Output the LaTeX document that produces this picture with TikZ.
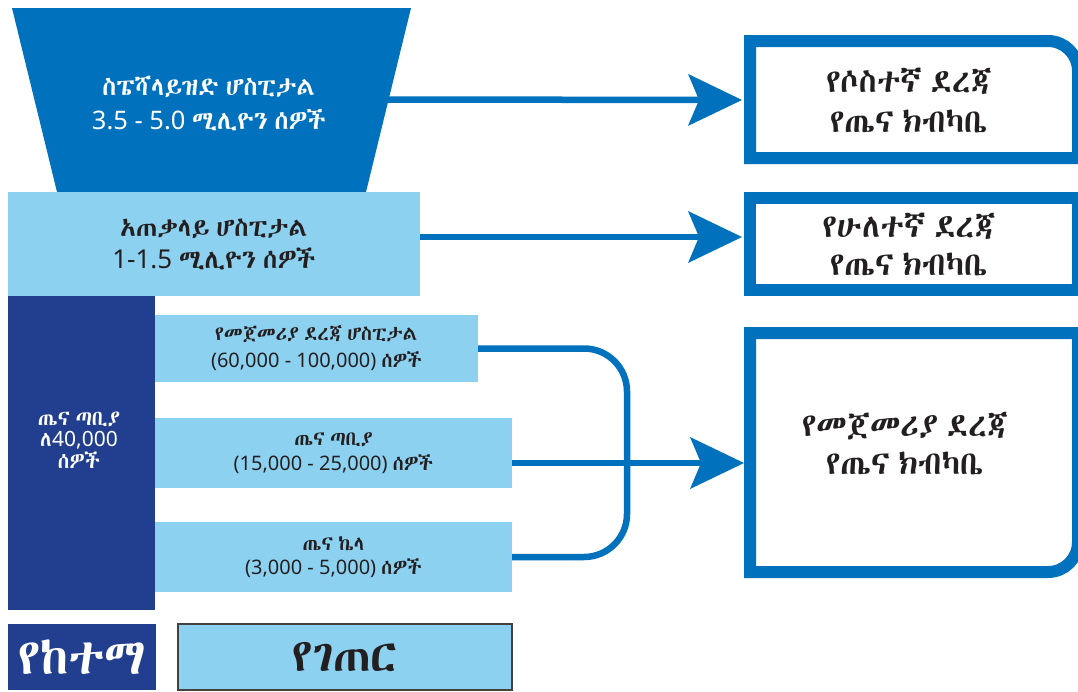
\documentclass[tikz,border=0pt]{standalone}
\usepackage{fontspec}
\setmainfont{Noto Sans}
\newfontfamily\eth[WordSpace=0.6]{Abyssinica SIL}
\newcommand{\E}[1]{{\eth #1}}
\usetikzlibrary{arrows.meta,calc}
\definecolor{mblue}{HTML}{0071BC}
\definecolor{lblue}{HTML}{8DD1F0}
\definecolor{navy}{HTML}{213F8E}
\definecolor{ink}{HTML}{231F20}
\tikzset{
  panel/.style={draw=none, inner sep=0pt, outer sep=0pt, align=center},
  lpanel/.style={panel, fill=lblue, text=ink},
  npanel/.style={panel, fill=navy, text=white},
  frame/.style={draw=mblue, line width=12pt, line join=miter},
  arr/.style={draw=mblue, line width=6.5pt, -{Stealth[length=54pt,width=52pt,inset=11pt,line width=0pt]}},
  conn/.style={draw=mblue, line width=6.5pt, rounded corners=43pt},
  tlabel/.style={inner sep=0pt, outer sep=0pt, align=center, text=ink},
}
\begin{document}
\begin{tikzpicture}[x=1pt,y=-1pt]
\clip (0,0) rectangle (1078,691);
\fill[white] (0,0) rectangle (1078,691);
% specialized hospital trapezoid
\fill[mblue] (12,8) -- (411,8) -- (366,192) -- (57,192) -- cycle;
\node[tlabel, text=white, font=\fontsize{25.5}{34}\selectfont] (spec) at (209,104)
  {\E{ስፔሻላይዝድ ሆስፒታል}\\3.5 - 5.0 \E{ሚሊዮን ሰዎች}};
\coordinate (specR) at (388,99.5);
% general hospital
\node[lpanel, minimum width=412, minimum height=104, font=\fontsize{26}{32}\selectfont] (gen) at (214,244)
  {\E{አጠቃላይ ሆስፒታል}\\1-1.5 \E{ሚሊዮን ሰዎች}};
% health centre column
\node[npanel, minimum width=147, minimum height=314] (hc) at (81.5,453) {};
\node[tlabel, text=white, font=\fontsize{21}{21.5}\selectfont] (hcT) at (79,440)
  {\E{ጤና ጣቢያ}\\\E{ለ}40,000\\\E{ሰዎች}};
% primary boxes
\node[lpanel, minimum width=323, minimum height=67, font=\fontsize{20}{27}\selectfont] (b1) at (316.5,348.5)
  {\E{የመጀመሪያ ደረጃ ሆስፒታል}\\(60,000 - 100,000) \E{ሰዎች}};
\node[lpanel, minimum width=357, minimum height=70, font=\fontsize{20}{25}\selectfont] (b2) at (333.5,453)
  {\E{ጤና ጣቢያ}\\(15,000 - 25,000) \E{ሰዎች}};
\node[lpanel, minimum width=357, minimum height=70, font=\fontsize{20}{24}\selectfont] (b3) at (333.5,557)
  {\E{ጤና ኬላ}\\(3,000 - 5,000) \E{ሰዎች}};
% bottom legend
\node[npanel, minimum width=148, minimum height=66, font=\fontsize{50}{50}\selectfont] (urban) at (82,657) {\E{የከተማ}};
\node[lpanel, draw=ink!85, line width=1.5pt, minimum width=334, minimum height=66, font=\fontsize{46}{46}\selectfont] (rural) at (345,657) {\E{የገጠር}};
% right frames
\draw[frame] (1078,158) -- (750,158) -- (750,41) -- (1048,41)
  .. controls (1064.6,41) and (1078,54.4) .. (1078,71) -- cycle;
\draw[frame] (750,198) rectangle (1078,290);
\draw[frame] (750,333) -- (1078,333) -- (1078,542)
  .. controls (1078,558.6) and (1064.6,572) .. (1048,572) -- (750,572) -- cycle;
\node[tlabel, minimum width=334, minimum height=129, font=\fontsize{32.5}{40}\selectfont] (A) at (909,100)
  {\E{የሶስተኛ ደረጃ}\\\E{የጤና ክብካቤ}};
\node[tlabel, minimum width=334, minimum height=104, font=\fontsize{32.5}{38}\selectfont] (B) at (909,244)
  {\E{የሁለተኛ ደረጃ}\\\E{የጤና ክብካቤ}};
\node[tlabel, minimum width=334, minimum height=251] (C) at (911,452.5) {};
\node[tlabel, font=\fontsize{32.5}{38}\selectfont] (Ct) at (905,444)
  {\E{የመጀመሪያ ደረጃ}\\\E{የጤና ክብካቤ}};
% connectors
\draw[arr] (specR) -- (A.west);
\draw[arr] ($(gen.east)+(0,-7)$) -- ($(B.west)+(0,-7)$);
\draw[conn] (b1.east) -| (627,452) |- (b3.east);
\draw[arr] ($(b2.east)+(0,10)$) -- ($(C.west)+(0,10.5)$);
\end{tikzpicture}
\end{document}
